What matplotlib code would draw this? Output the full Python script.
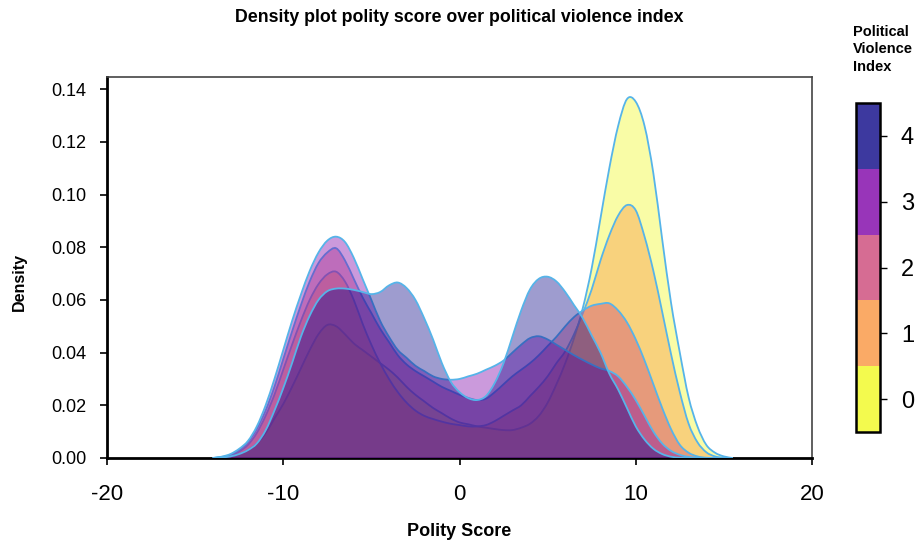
import matplotlib
matplotlib.use('Agg')
import matplotlib.pyplot as plt
import numpy as np
from matplotlib.colors import ListedColormap, BoundaryNorm
from matplotlib.cm import ScalarMappable
from matplotlib.path import Path
from matplotlib.patches import PathPatch

plt.rcParams['font.family'] = ['Liberation Sans', 'DejaVu Sans']
plt.rcParams['axes.unicode_minus'] = False

polity = [-14.0, -13.5, -13.0, -12.5, -12.0, -11.5, -11.0, -10.5, -10.0, -9.5,
          -9.0, -8.5, -8.0, -7.5, -7.0, -6.5, -6.0, -5.5, -5.0, -4.5,
          -4.0, -3.5, -3.0, -2.5, -2.0, -1.5, -1.0, -0.5, 0.0, 0.5,
          1.0, 1.5, 2.0, 2.5, 3.0, 3.5, 4.0, 4.5, 5.0, 5.5,
          6.0, 6.5, 7.0, 7.5, 8.0, 8.5, 9.0, 9.5, 10.0, 10.5,
          11.0, 11.5, 12.0, 12.5, 13.0, 13.5, 14.0, 14.5, 15.0, 15.5]

# density per political violence index level
dens_0 = [0.0000, 0.0002, 0.0006, 0.0015, 0.0030, 0.0055, 0.0095, 0.0150, 0.0205, 0.0270,
          0.0340, 0.0410, 0.0470, 0.0505, 0.0500, 0.0470, 0.0435, 0.0410, 0.0385, 0.0360,
          0.0335, 0.0305, 0.0270, 0.0240, 0.0215, 0.0190, 0.0170, 0.0150, 0.0135, 0.0128,
          0.0120, 0.0115, 0.0110, 0.0106, 0.0106, 0.0115, 0.0130, 0.0160, 0.0210, 0.0280,
          0.0360, 0.0455, 0.0570, 0.0720, 0.0910, 0.1100, 0.1260, 0.1362, 0.1352, 0.1260,
          0.1080, 0.0830, 0.0590, 0.0400, 0.0230, 0.0120, 0.0050, 0.0020, 0.0006, 0.0000]
dens_1 = [0.0000, 0.0003, 0.0010, 0.0025, 0.0050, 0.0095, 0.0160, 0.0240, 0.0335, 0.0430,
          0.0520, 0.0600, 0.0660, 0.0697, 0.0707, 0.0670, 0.0600, 0.0510, 0.0430, 0.0360,
          0.0300, 0.0250, 0.0210, 0.0180, 0.0160, 0.0148, 0.0138, 0.0130, 0.0125, 0.0120,
          0.0120, 0.0125, 0.0140, 0.0160, 0.0180, 0.0200, 0.0235, 0.0270, 0.0310, 0.0360,
          0.0405, 0.0470, 0.0550, 0.0640, 0.0750, 0.0845, 0.0920, 0.0960, 0.0940, 0.0840,
          0.0710, 0.0555, 0.0395, 0.0250, 0.0130, 0.0060, 0.0022, 0.0006, 0.0001, 0.0000]
dens_2 = [0.0000, 0.0004, 0.0012, 0.0030, 0.0060, 0.0110, 0.0180, 0.0270, 0.0375, 0.0480,
          0.0580, 0.0670, 0.0740, 0.0780, 0.0796, 0.0750, 0.0680, 0.0610, 0.0550, 0.0490,
          0.0440, 0.0390, 0.0355, 0.0330, 0.0310, 0.0290, 0.0270, 0.0255, 0.0240, 0.0228,
          0.0220, 0.0225, 0.0250, 0.0280, 0.0310, 0.0335, 0.0360, 0.0390, 0.0425, 0.0460,
          0.0500, 0.0535, 0.0560, 0.0578, 0.0585, 0.0587, 0.0560, 0.0515, 0.0450, 0.0370,
          0.0280, 0.0190, 0.0110, 0.0050, 0.0020, 0.0006, 0.0001, 0.0000, 0.0000, 0.0000]
dens_3 = [0.0000, 0.0005, 0.0015, 0.0035, 0.0065, 0.0120, 0.0200, 0.0300, 0.0410, 0.0520,
          0.0620, 0.0710, 0.0780, 0.0825, 0.0840, 0.0820, 0.0760, 0.0680, 0.0600, 0.0520,
          0.0460, 0.0410, 0.0380, 0.0350, 0.0330, 0.0310, 0.0300, 0.0297, 0.0300, 0.0310,
          0.0320, 0.0335, 0.0350, 0.0370, 0.0400, 0.0430, 0.0455, 0.0462, 0.0450, 0.0430,
          0.0410, 0.0390, 0.0372, 0.0355, 0.0340, 0.0330, 0.0310, 0.0270, 0.0220, 0.0160,
          0.0100, 0.0055, 0.0027, 0.0012, 0.0004, 0.0001, 0.0000, 0.0000, 0.0000, 0.0000]
dens_4 = [0.0000, 0.0002, 0.0006, 0.0015, 0.0030, 0.0055, 0.0105, 0.0180, 0.0265, 0.0360,
          0.0460, 0.0540, 0.0600, 0.0633, 0.0643, 0.0643, 0.0638, 0.0630, 0.0622, 0.0630,
          0.0655, 0.0666, 0.0645, 0.0600, 0.0530, 0.0450, 0.0360, 0.0290, 0.0250, 0.0227,
          0.0220, 0.0235, 0.0285, 0.0360, 0.0460, 0.0560, 0.0640, 0.0680, 0.0688, 0.0670,
          0.0630, 0.0580, 0.0530, 0.0465, 0.0400, 0.0320, 0.0260, 0.0190, 0.0120, 0.0070,
          0.0035, 0.0015, 0.0005, 0.0001, 0.0000, 0.0000, 0.0000, 0.0000, 0.0000, 0.0000]

levels = [0, 1, 2, 3, 4]
densities = [dens_0, dens_1, dens_2, dens_3, dens_4]

plasma = matplotlib.colormaps['plasma']
level_colors = [plasma(1 - lv / 4) for lv in levels]
edge = '#56B4E9'


def curve_path(xs, ys, closed=False):
    # smooth Bezier path through the read points (Catmull-Rom handles)
    pts = np.column_stack([xs, ys])
    n = len(pts)
    verts = [pts[0]]
    codes = [Path.MOVETO]
    for i in range(n - 1):
        p0 = pts[max(i - 1, 0)]
        p1 = pts[i]
        p2 = pts[i + 1]
        p3 = pts[min(i + 2, n - 1)]
        c1 = p1 + (p2 - p0) / 6
        c2 = p2 - (p3 - p1) / 6
        c1[1] = max(c1[1], 0)
        c2[1] = max(c2[1], 0)
        verts += [c1, c2, p2]
        codes += [Path.CURVE4] * 3
    if closed:
        verts += [(xs[-1], 0), (xs[0], 0), pts[0]]
        codes += [Path.LINETO, Path.LINETO, Path.CLOSEPOLY]
    return Path(verts, codes)


fig = plt.figure(figsize=(9.24, 5.42), dpi=100)
ax = fig.add_axes([107 / 924, 1 - 458 / 542, 705 / 924, 381 / 542])

for i, d in enumerate(densities):
    ax.add_patch(PathPatch(curve_path(polity, d, closed=True), facecolor=level_colors[i],
                           alpha=0.4, lw=0, zorder=2 + 2 * i))
    ax.add_patch(PathPatch(curve_path(polity, d), facecolor='none', edgecolor=edge,
                           lw=1.3, zorder=3 + 2 * i))

ax.set_xlim(-20, 20)
ax.set_ylim(0, 0.1446)
ax.set_xticks([-20, -10, 0, 10, 20])
ax.set_yticks([0, 0.02, 0.04, 0.06, 0.08, 0.10, 0.12, 0.14])
ax.set_yticklabels(['0.00', '0.02', '0.04', '0.06', '0.08', '0.10', '0.12', '0.14'])
ax.tick_params(axis='x', labelsize=16, length=5, width=1.2, pad=14)
ax.tick_params(axis='y', labelsize=13, length=5, width=1.2, pad=10)
for side in ['left', 'bottom']:
    ax.spines[side].set_linewidth(2)
    ax.spines[side].set_color('black')
for side in ['top', 'right']:
    ax.spines[side].set_linewidth(1.2)
    ax.spines[side].set_color('#444444')

fig.text(459 / 924, 1 - 18 / 542, 'Density plot polity score over political violence index',
         ha='center', va='center', fontsize=12.8, fontweight='bold')
fig.text(459 / 924, 1 - 531 / 542, 'Polity Score', ha='center', va='center',
         fontsize=13, fontweight='bold')
fig.text(19 / 924, 1 - 282 / 542, 'Density', ha='center', va='center', rotation=90,
         fontsize=11.5, fontweight='bold')

# discrete colour key, colours as seen at 0.8 opacity on white
key_colors = [tuple(0.8 * np.array(c[:3]) + 0.2) for c in level_colors]
cmap = ListedColormap(key_colors)
norm = BoundaryNorm([-0.5, 0.5, 1.5, 2.5, 3.5, 4.5], cmap.N)
cax = fig.add_axes([856 / 924, 1 - 432 / 542, 24 / 924, 329 / 542])
cb = fig.colorbar(ScalarMappable(norm=norm, cmap=cmap), cax=cax, ticks=levels)
cb.outline.set_linewidth(1.8)
cax.minorticks_off()
cax.tick_params(labelsize=17, length=5, width=1, pad=10)
fig.text(853 / 924, 1 - 25 / 542, 'Political\nViolence\nIndex', ha='left', va='top',
         fontsize=10.5, fontweight='bold', linespacing=1.3)

fig.savefig('out.png', dpi=100)
